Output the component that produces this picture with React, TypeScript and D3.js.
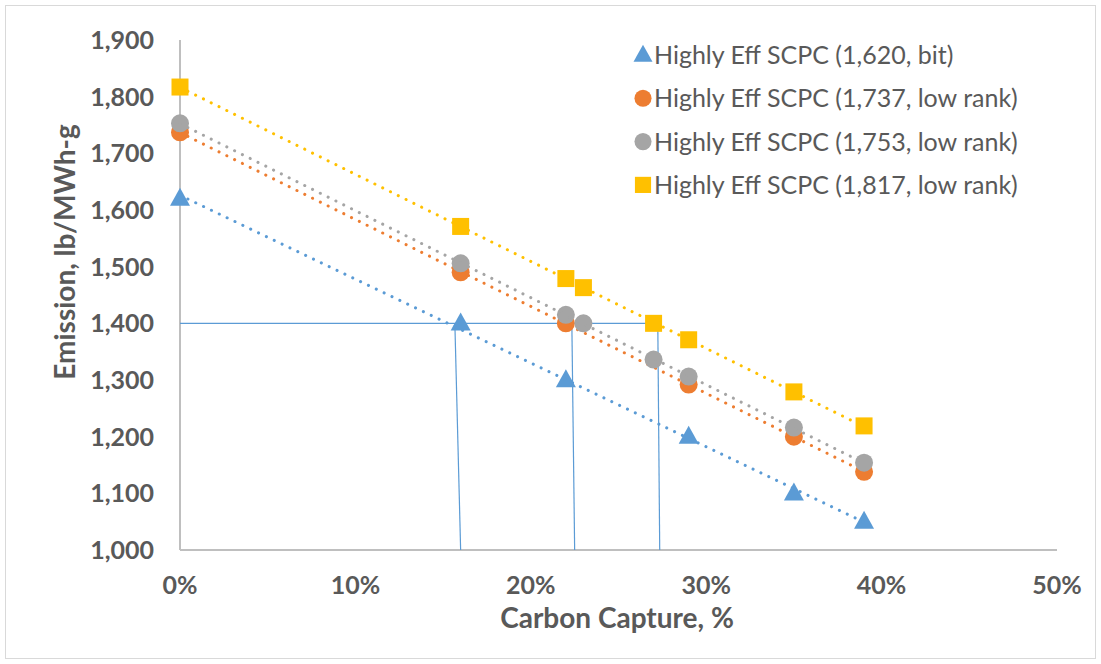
import React from "react";
import * as d3 from "d3";

const seriesNames = [
  "Highly Eff SCPC (1,620, bit)",
  "Highly Eff SCPC (1,737, low rank)",
  "Highly Eff SCPC (1,753, low rank)",
  "Highly Eff SCPC (1,817, low rank)",
];
const seriesColors = ["#5B9BD5", "#ED7D31", "#A5A5A5", "#FFC000"];
const seriesShapes = ["triangle", "circle", "circle", "square"];

const capture1620 = [0, 16, 22, 29, 35, 39];
const emission1620 = [1620, 1400, 1300, 1200, 1100, 1050];

const capture1737 = [0, 16, 22, 29, 35, 39];
const emission1737 = [1737, 1490, 1400, 1292, 1200, 1138];

const capture1753 = [0, 16, 22, 23, 27, 29, 35, 39];
const emission1753 = [1753, 1506, 1415, 1400, 1336, 1306, 1216, 1154];

const capture1817 = [0, 16, 22, 23, 27, 29, 35, 39];
const emission1817 = [1817, 1571, 1479, 1463, 1400, 1371, 1279, 1219];

const xTicks = [0, 10, 20, 30, 40, 50];
const yTicks = [1000, 1100, 1200, 1300, 1400, 1500, 1600, 1700, 1800, 1900];

// reference lines (data units): horizontal at 1400, verticals with slight slant
const refHorizontal = { y: 1400, x0: 0, x1: 27.3 };
const refVerticals = [
  { xTop: 15.67, xBottom: 16.0 },
  { xTop: 22.34, xBottom: 22.5 },
  { xTop: 27.24, xBottom: 27.35 },
];

const W = 1101;
const H = 664;
const FONT = "Lato, 'Open Sans', sans-serif";

function fit(xs: number[], ys: number[]) {
  const n = xs.length;
  const mx = d3.mean(xs)!;
  const my = d3.mean(ys)!;
  let sxy = 0, sxx = 0;
  for (let i = 0; i < n; i++) {
    sxy += (xs[i] - mx) * (ys[i] - my);
    sxx += (xs[i] - mx) ** 2;
  }
  const b = sxy / sxx;
  return { a: my - b * mx, b };
}

export default function App() {
  const x = d3.scaleLinear().domain([0, 50]).range([180, 1057]);
  const y = d3.scaleLinear().domain([1000, 1900]).range([550, 40]);
  const fmt = d3.format(",");

  const series = [
    { xs: capture1620, ys: emission1620 },
    { xs: capture1737, ys: emission1737 },
    { xs: capture1753, ys: emission1753 },
    { xs: capture1817, ys: emission1817 },
  ];

  const marker = (shape: string, cx: number, cy: number, color: string, key: string, s = 1) => {
    if (shape === "triangle") {
      const h = 18 * s, w = 20 * s;
      return (
        <path key={key} d={`M${cx},${cy - h * 0.6}L${cx + w / 2},${cy + h * 0.4}L${cx - w / 2},${cy + h * 0.4}Z`} fill={color} />
      );
    }
    if (shape === "square") {
      const a = 17 * s;
      return <rect key={key} x={cx - a / 2} y={cy - a / 2} width={a} height={a} fill={color} />;
    }
    return <circle key={key} cx={cx} cy={cy} r={9 * s} fill={color} />;
  };

  return (
    <svg width={W} height={H} style={{ position: "absolute", left: 0, top: 0 }} fontFamily={FONT}>
      <rect x={0} y={0} width={W} height={H} fill="#fff" />
      <rect x={5.5} y={5.5} width={W - 11} height={H - 11} fill="none" stroke="#D9D9D9" strokeWidth={1} />

      {/* axes */}
      <line x1={x(0)} x2={x(0)} y1={y(1900)} y2={y(1000)} stroke="#BFBFBF" strokeWidth={2} />
      <line x1={x(0)} x2={x(50)} y1={y(1000)} y2={y(1000)} stroke="#BFBFBF" strokeWidth={2} />

      {yTicks.map((t) => (
        <text key={t} x={154} y={y(t)} dy="0.36em" textAnchor="end" fontSize={25} fontWeight="bold" fill="#595959">
          {fmt(t)}
        </text>
      ))}
      {xTicks.map((t) => (
        <text key={t} x={x(t)} y={585} dy="0.36em" textAnchor="middle" fontSize={25} fontWeight="bold" fill="#595959">
          {t}%
        </text>
      ))}
      <text x={617} y={628} textAnchor="middle" fontSize={28} fontWeight="bold" fill="#595959">
        Carbon Capture, %
      </text>
      <text transform={`translate(75,252) rotate(-90)`} textAnchor="middle" fontSize={28} fontWeight="bold" fill="#595959">
        Emission, lb/MWh-g
      </text>

      {/* reference lines */}
      <line x1={x(refHorizontal.x0)} x2={x(refHorizontal.x1)} y1={y(refHorizontal.y)} y2={y(refHorizontal.y)} stroke="#5B9BD5" strokeWidth={1.2} />
      {refVerticals.map((v, i) => (
        <line key={i} x1={x(v.xTop)} x2={x(v.xBottom)} y1={y(refHorizontal.y)} y2={y(1000)} stroke="#5B9BD5" strokeWidth={1.2} />
      ))}

      {/* markers and trendlines */}
      {series.map((s, i) => {
        const { a, b } = fit(s.xs, s.ys);
        const x0 = d3.min(s.xs)!, x1 = d3.max(s.xs)!;
        return (
          <g key={i}>
            {s.xs.map((xv, j) => marker(seriesShapes[i], x(xv), y(s.ys[j]), seriesColors[i], `m${i}-${j}`))}
            <line
              x1={x(x0)} y1={y(a + b * x0)} x2={x(x1)} y2={y(a + b * x1)}
              stroke={seriesColors[i]} strokeWidth={3} strokeDasharray="0.1 8.6" strokeLinecap="round"
            />
          </g>
        );
      })}

      {/* legend */}
      {seriesNames.map((name, i) => {
        const cy = 55 + i * 43.3;
        return (
          <g key={name}>
            {marker(seriesShapes[i], 643, cy, seriesColors[i], `l${i}`, 0.95)}
            <text x={654} y={cy} dy="0.36em" fontSize={25} fill="#595959">
              {name}
            </text>
          </g>
        );
      })}
    </svg>
  );
}
